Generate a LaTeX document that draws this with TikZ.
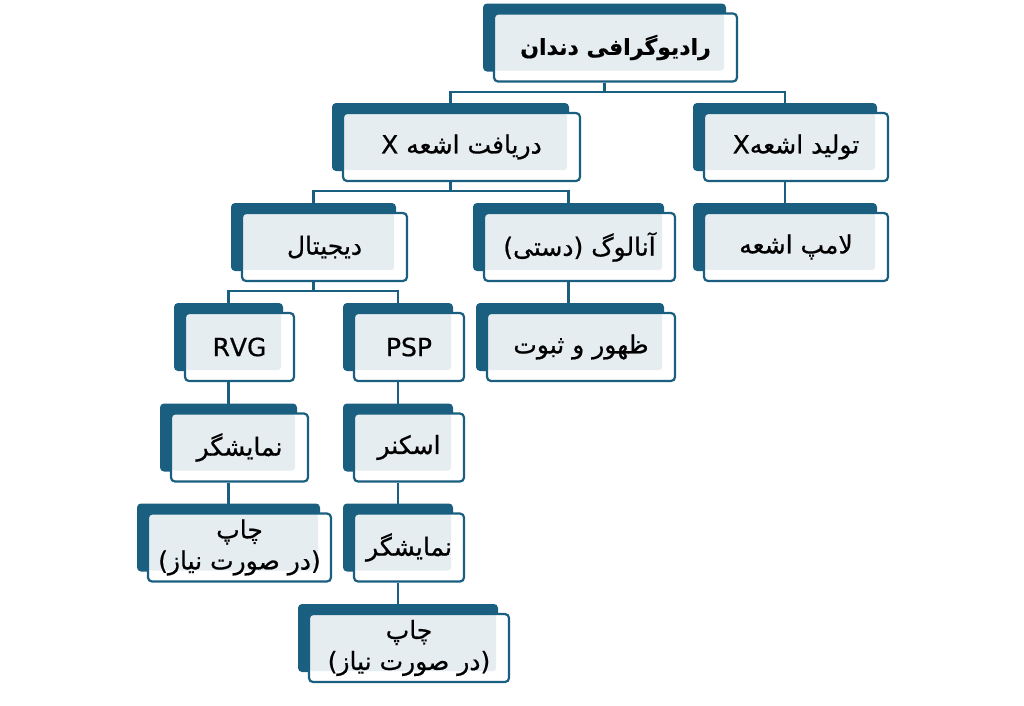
\documentclass[tikz,border=0pt]{standalone}
\usepackage{fontspec}
\newfontfamily\arabicfont[Script=Arabic,FakeBold=0.6]{DejaVu Sans}
\newfontfamily\arabicbold[Script=Arabic,FakeBold=0.5]{DejaVu Sans Bold}
\TeXXeTstate=1
\usetikzlibrary{shadows,backgrounds}
\definecolor{dk}{RGB}{26,95,128}
\definecolor{lt}{RGB}{230,237,241}
\tikzset{
  box/.style={draw=dk, line width=2.2pt, fill=white, rounded corners=4pt,
    minimum height=68pt, inner sep=0pt, text=black, align=center,
    font=\arabicfont\fontsize{25}{31}\selectfont,
    copy shadow={shadow xshift=-11pt, shadow yshift=10pt, fill=dk, draw=none},
    path picture={\fill[lt, rounded corners=3pt] (path picture bounding box.north west) rectangle ([xshift=-13pt,yshift=11pt]path picture bounding box.south east);}},
  conn/.style={draw=dk, line width=2.2pt}
}
\begin{document}
\begin{tikzpicture}[x=1pt,y=-1pt]
\useasboundingbox (0,0) rectangle (1024,705);
\node[box, minimum width=243pt, font=\arabicbold\fontsize{22}{27}\selectfont] (title) at (615.5,47.5) {\beginR رادیوگرافی دندان\endR};
\node[box, minimum width=237pt] (rec) at (461.5,147) {\beginR دریافت اشعه X\endR};
\node[box, minimum width=184pt] (gen) at (796,147) {\beginR تولید اشعهX\endR};
\node[box, minimum width=165pt] (dig) at (324.5,247) {\beginR دیجیتال\endR};
\node[box, minimum width=191pt] (ana) at (579.5,247) {\beginR آنالوگ (دستی)\endR};
\node[box, minimum width=184pt] (lamp) at (796,247) {\beginR لامپ اشعه\endR};
\node[box, minimum width=109pt] (rvg) at (239.5,347) {RVG};
\node[box, minimum width=110pt] (psp) at (409,347) {PSP};
\node[box, minimum width=188pt] (dev) at (581,347) {\beginR ظهور و ثبوت\endR};
\node[box, minimum width=137pt] (mon1) at (239.5,447.5) {\beginR نمایشگر\endR};
\node[box, minimum width=110pt] (scan) at (409,447.5) {\beginR اسکنر\endR};
\node[box, minimum width=183pt] (prt1) at (239.5,547.5) {\beginR چاپ\endR\\\beginR (در صورت نیاز)\endR};
\node[box, minimum width=110pt] (mon2) at (409,547.5) {\beginR نمایشگر\endR};
\node[box, minimum width=200pt] (prt2) at (409,648) {\beginR چاپ\endR\\\beginR (در صورت نیاز)\endR};
\begin{pgfonlayer}{background}
\draw[conn] ([xshift=-11pt]title.south) -- ++(0,9) -| ([xshift=-11pt]rec.north);
\draw[conn] ([xshift=-11pt]title.south) -- ++(0,9) -| ([xshift=-11pt]gen.north);
\draw[conn] ([xshift=-11pt]rec.south) -- ++(0,9) -| ([xshift=-11pt]dig.north);
\draw[conn] ([xshift=-11pt]rec.south) -- ++(0,9) -| ([xshift=-11pt]ana.north);
\draw[conn] ([xshift=-11pt]gen.south) -- ([xshift=-11pt]gen.south |- lamp.north);
\draw[conn] ([xshift=-11pt]dig.south) -- ++(0,9) -| ([xshift=-11pt]rvg.north);
\draw[conn] ([xshift=-11pt]dig.south) -- ++(0,9) -| ([xshift=-11pt]psp.north);
\draw[conn] ([xshift=-11pt]ana.south) -- ([xshift=-11pt]ana.south |- dev.north);
\draw[conn] ([xshift=-11pt]rvg.south) -- ([xshift=-11pt]rvg.south |- mon1.north);
\draw[conn] ([xshift=-11pt]mon1.south) -- ([xshift=-11pt]mon1.south |- prt1.north);
\draw[conn] ([xshift=-11pt]psp.south) -- ([xshift=-11pt]psp.south |- scan.north);
\draw[conn] ([xshift=-11pt]scan.south) -- ([xshift=-11pt]scan.south |- mon2.north);
\draw[conn] ([xshift=-11pt]mon2.south) -- ([xshift=-11pt]mon2.south |- prt2.north);
\end{pgfonlayer}
\end{tikzpicture}
\end{document}
